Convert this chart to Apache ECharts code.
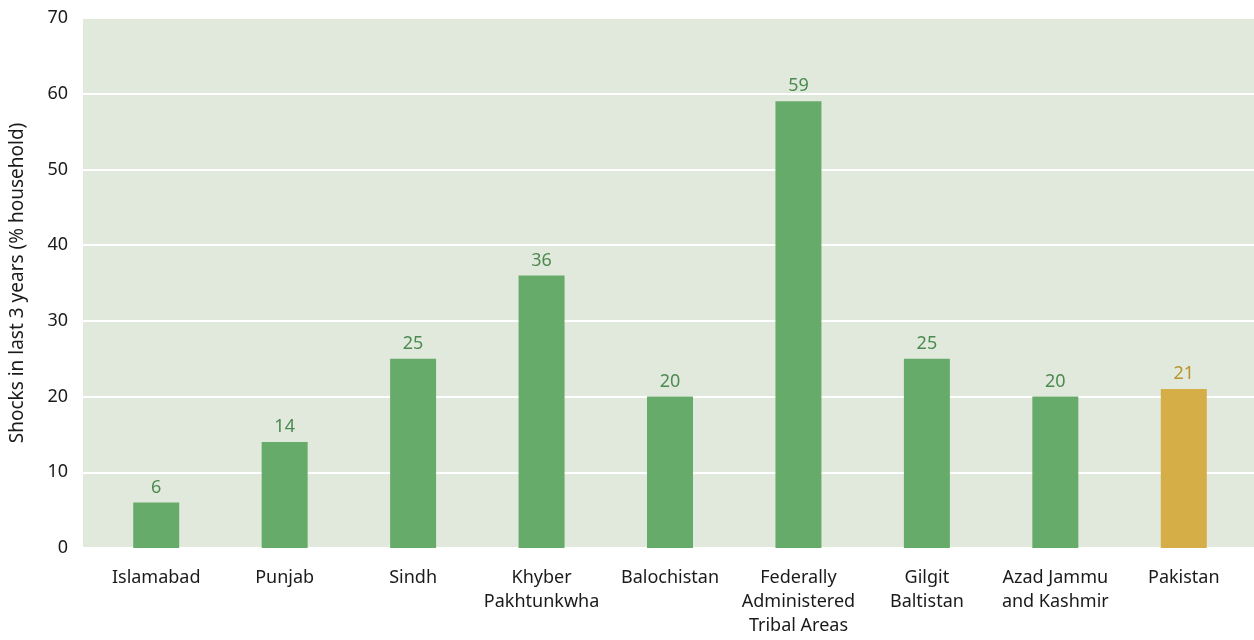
<!DOCTYPE html>
<html>
<head>
<meta charset="utf-8">
<script src="https://cdn.jsdelivr.net/npm/echarts@6/dist/echarts.min.js"></script>
<style>
  html, body { margin: 0; padding: 0; background: #fff; }
  #shocks { width: 1254px; height: 640px; }
</style>
</head>
<body>
<div id="shocks"></div>
<script>
var regions = ['Islamabad', 'Punjab', 'Sindh', 'Khyber\nPakhtunkwha', 'Balochistan',
	'Federally\nAdministered\nTribal Areas', 'Gilgit\nBaltistan', 'Azad Jammu\nand Kashmir', 'Pakistan'];
var shocks = [6, 14, 25, 36, 20, 59, 25, 20, 21];
var yTicks = [0, 70, 10]; // min, max, step

var chart = echarts.init(document.getElementById('shocks'));

// grid 0 = shaded panel + y axis, grid 1 = bars (slightly inset like the original)
chart.setOption({
	textStyle: { fontFamily: 'Noto Sans' },
	grid: [{
		left: 83, right: 0, top: 18, bottom: 92,
		show: true,
		backgroundColor: '#e1e9dd',
		borderWidth: 0
	}, {
		left: 92, right: 6, top: 18, bottom: 92
	}],
	xAxis: [{
		type: 'category',
		gridIndex: 0,
		data: regions,
		show: false
	}, {
		type: 'category',
		gridIndex: 1,
		data: regions,
		axisLine: { show: false },
		axisTick: { show: false },
		axisLabel: {
			color: '#1a1a1a',
			fontSize: 18,
			lineHeight: 24,
			margin: 18,
			interval: 0
		}
	}],
	yAxis: [{
		type: 'value',
		gridIndex: 0,
		min: yTicks[0],
		max: yTicks[1],
		interval: yTicks[2],
		name: 'Shocks in last 3 years (% household)',
		nameLocation: 'middle',
		nameGap: 56,
		nameTextStyle: { color: '#1a1a1a', fontSize: 19 },
		axisLine: { show: false },
		axisTick: { show: false },
		axisLabel: { color: '#1a1a1a', fontSize: 18, margin: 15 },
		splitLine: { lineStyle: { color: '#ffffff', width: 2 } }
	}, {
		type: 'value',
		gridIndex: 1,
		min: yTicks[0],
		max: yTicks[1],
		interval: yTicks[2],
		show: false,
		splitLine: { show: false }
	}],
	series: [{
		type: 'bar',
		xAxisIndex: 1,
		yAxisIndex: 1,
		barWidth: 46,
		data: shocks.map(function (v, i) {
			var last = i === shocks.length - 1;
			return {
				value: v,
				itemStyle: { color: last ? '#d5ae48' : '#67ab6b' },
				label: { color: last ? '#b8952e' : '#4c8a50' }
			};
		}),
		label: {
			show: true,
			position: 'top',
			distance: 6,
			fontSize: 18
		}
	}]
});
</script>
</body>
</html>
